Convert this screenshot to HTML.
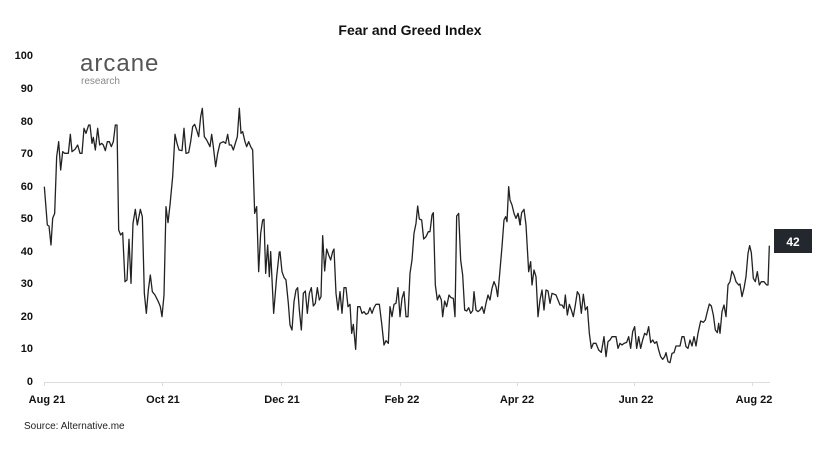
<!DOCTYPE html>
<html><head><meta charset="utf-8"><style>
body{margin:0;background:#fff;width:827px;height:453px;overflow:hidden;font-family:"Liberation Sans",sans-serif}
svg{display:block}
</style></head><body>
<svg width="827" height="453" viewBox="0 0 827 453" font-family="Liberation Sans, sans-serif">
<text x="410" y="35" text-anchor="middle" font-size="14" font-weight="bold" fill="#111">Fear and Greed Index</text>
<text x="80" y="71" font-size="24" fill="#555" letter-spacing="1">arcane</text>
<text x="81" y="84" font-size="10" fill="#888">research</text>
<g font-size="11" font-weight="bold" fill="#111" text-anchor="end">
<text x="33" y="59">100</text><text x="33" y="92">90</text><text x="33" y="125">80</text><text x="33" y="157">70</text><text x="33" y="190">60</text><text x="33" y="222">50</text><text x="33" y="255">40</text><text x="33" y="287">30</text><text x="33" y="320">20</text><text x="33" y="352">10</text><text x="33" y="385">0</text>
</g>
<line x1="44" y1="382.5" x2="770" y2="382.5" stroke="#ddd" stroke-width="1"/>
<g stroke="#ddd"><line x1="44.5" y1="382" x2="44.5" y2="386"/><line x1="162.5" y1="382" x2="162.5" y2="386"/><line x1="281.5" y1="382" x2="281.5" y2="386"/><line x1="400.5" y1="382" x2="400.5" y2="386"/><line x1="517.5" y1="382" x2="517.5" y2="386"/><line x1="634.5" y1="382" x2="634.5" y2="386"/><line x1="752.5" y1="382" x2="752.5" y2="386"/></g>
<g font-size="11" font-weight="bold" fill="#111" text-anchor="middle">
<text x="47" y="403">Aug 21</text><text x="163" y="403">Oct 21</text><text x="282" y="403">Dec 21</text><text x="402" y="403">Feb 22</text><text x="517" y="403">Apr 22</text><text x="636" y="403">Jun 22</text><text x="754" y="403">Aug 22</text>
</g>
<text x="24" y="429" font-size="10" fill="#222">Source: Alternative.me</text>
<g fill="none" stroke="#222" stroke-width="1.3" stroke-linejoin="round">
<polyline transform="translate(30,100) scale(0.33333)" vector-effect="non-scaling-stroke" points="43,260 52,375 57,378 63,435 68,355 74,340 80,170 86,125 92,210 98,155 104,160 115,160 121,103 126,155 135,148 143,135 150,160 156,160 162,85 168,100 176,75 180,75 186,130 190,112 196,150 203,85 209,135 215,130 220,135 226,152 232,125 238,125 244,140 250,125 256,75 261,75 266,390 272,405 278,398 285,545 291,540 297,418 303,550 309,370 316,328 322,375 331,328 337,350 343,580 349,640 355,570 361,525 367,575 375,585 385,605 391,620 396,650 402,585 408,320 414,368 420,315 428,230 435,103 441,130 447,150 456,152 462,85 468,160 476,158 482,125 488,80 494,73 500,90 506,110 512,50 517,25 523,110 530,120 540,140 545,103 550,140 557,200 563,160 570,130 580,125 587,130 593,103 598,135 604,135 610,150 616,130 622,110 628,25 633,100 638,95 645,125 650,140 656,125 662,140 668,150 674,340 680,320 686,515 692,400 698,360 702,358 707,520 713,435 718,530 722,455 731,640 740,530 748,455"/>
<polyline transform="translate(270,170) scale(0.33333)" vector-effect="non-scaling-stroke" points="27,255 30,245 36,305 42,322 48,330 55,400 60,465 66,480 72,395 78,360 83,353 88,420 94,480 100,370 106,363 112,430 118,370 124,353 130,408 136,400 142,353 148,390 153,380 158,197 164,303 170,237 176,255 182,270 188,245 192,237 198,370 204,420 210,365 216,430 222,353 228,353 234,410 240,403 245,490 250,463 257,538 263,410 270,410 276,430 282,425 288,433 294,430 300,413 306,430 312,413 318,403 328,403 335,460 342,525 348,512 355,520 360,410 366,440 372,403 378,400 384,353 390,440 396,385 402,365 408,440 414,440 420,310 426,270 432,190 438,160 443,108 448,147 455,150 461,207 468,200 475,185 480,185 486,135 490,128 496,345 502,390 508,375 514,390 518,440 524,393 530,410 537,375 543,383 550,385 555,440 560,138 566,130 572,270 578,315 584,420 590,423 596,413 602,430 608,422 612,365 618,420 624,425 630,420 636,410 642,430 648,400 654,375 660,390 666,355 672,335 678,350 683,380 690,300 696,230 702,150 707,140 711,155 716,50 720,90 726,105 732,130 738,145 744,130 752,165"/>
<polyline transform="translate(520,180) scale(0.33333)" vector-effect="non-scaling-stroke" points="-6,100 0,135 5,98 12,88 18,135 26,275 32,245 36,315 42,270 48,290 54,410 60,360 66,330 72,390 78,330 84,333 90,370 96,340 108,345 120,375 126,375 132,385 136,345 142,405 148,373 154,390 160,410 166,375 172,335 178,345 184,400 190,343 196,390 202,380 208,460 214,505 220,490 228,490 236,510 244,517 252,470 258,530 264,485 270,480 276,470 282,470 288,470 294,505 300,490 306,495 312,490 320,487 326,470 332,505 338,455 344,440 350,505 356,470 362,505 368,480 374,460 380,465 386,440 392,488 398,480 404,490 410,485 416,510 422,530 428,538 434,530 438,518 444,545 450,548 456,520 462,518 468,498 474,498 480,498 486,470 492,470 498,500 504,505 510,480 516,498 522,470 528,498 534,460 542,423 550,427 556,420 562,395 568,372 574,378 580,405 586,450 592,458 596,430 600,460 606,395 612,375 618,410 624,315 630,305 636,273 642,285 648,305 656,315 660,312 666,350 672,325 678,290 684,220 689,197 694,218 700,295 706,305 712,275 718,315 724,305 732,305 740,315 744,315 748,197"/>
</g>
<rect x="774" y="229" width="38" height="24" fill="#22282e"/>
<text x="793" y="246" text-anchor="middle" font-size="12" font-weight="bold" fill="#fff">42</text>
</svg>
</body></html>
